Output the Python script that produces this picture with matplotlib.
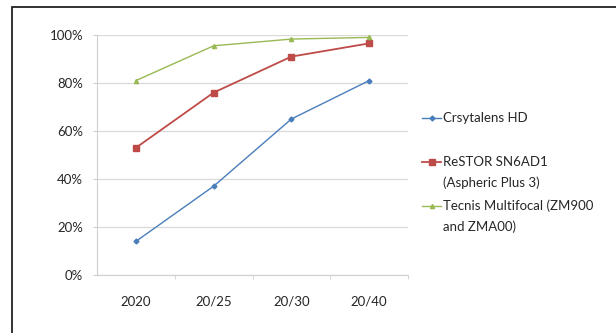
import matplotlib
matplotlib.use("Agg")
import matplotlib.pyplot as plt
from matplotlib.patches import Rectangle
from matplotlib.lines import Line2D

# Данные
categories = ["2020", "20/25", "20/30", "20/40"]
crystalens = [14, 37, 65, 81]
restor = [53, 76, 91, 96.5]
tecnis = [81, 95.5, 98.3, 99]
labels = ["Crsytalens HD", "ReSTOR SN6AD1\n(Aspheric Plus 3)", "Tecnis Multifocal (ZM900\nand ZMA00)"]
yticks = [0, 20, 40, 60, 80, 100]

plt.rcParams['font.family'] = ['Lato', 'DejaVu Sans']
txt = '#262626'
W, H = 616, 333

fig = plt.figure(figsize=(6.16, 3.33), dpi=100)
# рамка вокруг диаграммы (выходит за правый и нижний край)
fig.patches.append(Rectangle((12 / W, -0.2), 1.2, 1.2 - 7 / H, transform=fig.transFigure,
                             fill=False, edgecolor='#222222', linewidth=1.3))

ax = fig.add_axes([97 / W, 1 - 275 / H, 311 / W, 240 / H])
x = [i + 0.5 for i in range(len(categories))]

h0, = ax.plot(x, crystalens, color='#4A7EBB', marker='D', markersize=2.5, linewidth=1.0)
h1, = ax.plot(x, restor, color='#BE4B48', marker='s', markersize=4, linewidth=1.3)
h2, = ax.plot(x, tecnis, color='#98B954', marker='^', markersize=3, linewidth=1.0)

ax.set_xlim(0, 4)
ax.set_ylim(0, 100)
ax.set_yticks(yticks)
ax.set_yticklabels([f"{v}%" for v in yticks])
ax.set_xticks(x)
ax.set_xticklabels(categories)
ax.set_xticks([1, 2, 3, 4], minor=True)
ax.tick_params(axis='x', which='major', length=0, pad=15, labelsize=9.5, labelcolor=txt)
ax.tick_params(axis='x', which='minor', length=3, color='#cfcfcf')
ax.tick_params(axis='y', length=3, color='#cfcfcf', pad=7, labelsize=9.5, labelcolor=txt)

ax.grid(axis='y', color='#d9d9d9', linewidth=0.9)
ax.set_axisbelow(True)
for s in ['top', 'right']:
    ax.spines[s].set_visible(False)
ax.spines['left'].set_color('#cfcfcf')
ax.spines['bottom'].set_color('#cfcfcf')

# легенда вручную: маркер на уровне первой строки, как в Excel
legend_top = [118, 162, 206]
for h, lab, yy in zip([h0, h1, h2], labels, legend_top):
    yf = 1 - yy / H
    fig.add_artist(Line2D([422 / W, 441 / W], [yf, yf], color=h.get_color(),
                          linewidth=h.get_linewidth(), transform=fig.transFigure))
    fig.add_artist(Line2D([431.5 / W], [yf], color=h.get_color(), marker=h.get_marker(),
                          markersize=h.get_markersize(), transform=fig.transFigure))
    for i, line in enumerate(lab.split('\n')):
        fig.text(443 / W, 1 - (yy + 21 * i) / H, line, fontsize=9.5, color=txt, va='center')

plt.savefig("out.png", dpi=100)
